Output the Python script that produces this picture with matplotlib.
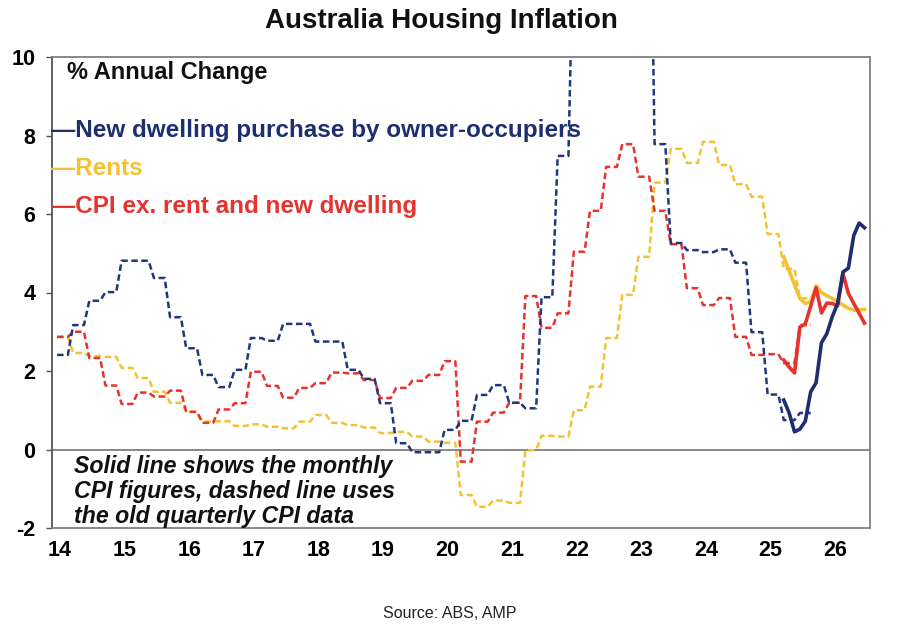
import numpy as np
import matplotlib
matplotlib.use("Agg")
import matplotlib.pyplot as plt

plt.rcParams['font.family'] = ['Liberation Sans', 'DejaVu Sans']

# ---------------- data ----------------
year_ticks = [14, 15, 16, 17, 18, 19, 20, 21, 22, 23, 24, 25, 26]
y_ticks = [-2, 0, 2, 4, 6, 8, 10]

# Quarterly CPI (annual % change), Dec-2013 quarter onwards
new_dwelling_q = [2.41, 3.17, 3.79, 4.01, 4.81, 4.81, 4.37, 3.37, 2.58, 1.90,
                  1.59, 2.03, 2.84, 2.77, 3.20, 3.20, 2.75, 2.75, 2.03, 1.80,
                  1.18, 0.16, -0.07, -0.07, 0.50, 0.73, 1.39, 1.64, 1.19, 1.05,
                  3.88, 7.48, 13.7, 16.6, 20.3, 20.7, 16.7, 7.78, 5.26, 5.08,
                  5.03, 5.10, 4.76, 2.99, 1.40, 0.75, 0.93]
rents_q = [2.87, 2.46, 2.38, 2.36, 2.08, 1.82, 1.47, 1.19, 0.96, 0.71,
           0.72, 0.60, 0.64, 0.58, 0.54, 0.71, 0.88, 0.68, 0.62, 0.56,
           0.42, 0.45, 0.33, 0.20, 0.17, -1.16, -1.46, -1.30, -1.36, -0.02,
           0.35, 0.33, 1.00, 1.60, 2.84, 3.94, 4.91, 6.80, 7.66, 7.30,
           7.84, 7.25, 6.76, 6.44, 5.49, 4.60, 3.85]
cpi_ex_q = [2.87, 3.00, 2.33, 1.63, 1.16, 1.45, 1.35, 1.50, 0.96, 0.68,
            1.02, 1.18, 1.98, 1.62, 1.32, 1.57, 1.69, 1.96, 1.94, 1.77,
            1.31, 1.57, 1.75, 1.90, 2.25, -0.31, 0.71, 0.94, 1.19, 3.91,
            3.10, 3.47, 5.04, 6.08, 7.20, 7.78, 6.95, 6.08, 5.23, 4.11,
            3.68, 3.86, 2.87, 2.41, 2.43, 2.20, 3.17]

# Monthly CPI (annual % change), from the Mar-2025 quarter month onwards
new_dwelling_m = [1.26, 0.93, 0.45, 0.52, 0.72, 1.47, 1.70, 2.72, 2.95, 3.38,
                  3.72, 4.52, 4.62, 5.45, 5.77, 5.65]
rents_m = [4.91, 4.55, 4.20, 3.85, 3.72, 3.76, 4.17, 4.00, 3.92, 3.85,
           3.77, 3.68, 3.60, 3.55, 3.56, 3.57]
cpi_ex_m = [2.28, 2.10, 1.95, 3.12, 3.20, 3.65, 4.12, 3.48, 3.73, 3.72,
            3.66, 4.48, 3.98, 3.72, 3.47, 3.22]

# ---------------- layout ----------------
W, H = 900, 633
START = 13.954          # axis position of first monthly slot
MONTHLY_OFFSET = 135    # month index where the monthly series begins

NAVY = '#1d2f6f'
NAVY_D = '#22377a'
YELLOW = '#f3c233'
RED = '#e5332e'
GRAY = '#7f7f7f'

fig = plt.figure(figsize=(W / 100, H / 100), dpi=100)
ax = fig.add_axes([52 / W, 1 - 528 / H, (870 - 52) / W, (528 - 57) / H])


def quarterly_to_monthly(vals):
    v = np.repeat(np.asarray(vals, dtype=float), 3)
    x = START + np.arange(len(v)) / 12.0
    return x, v


dash_kw = dict(lw=1.8, dashes=(2.6, 1.4), solid_capstyle='butt')
for q, c in [(rents_q, YELLOW), (cpi_ex_q, RED), (new_dwelling_q, NAVY_D)]:
    x, v = quarterly_to_monthly(q)
    ax.plot(x, v, color=c, **dash_kw, zorder=3)

for m, c in [(rents_m, YELLOW), (cpi_ex_m, RED), (new_dwelling_m, NAVY)]:
    xm = START + (MONTHLY_OFFSET + np.arange(len(m))) / 12.0
    ax.plot(xm, m, color=c, lw=2.6, zorder=4, solid_joinstyle='round')

ax.axhline(0, color=GRAY, lw=1.3, zorder=2)

ax.set_xlim(13.876, 26.539)
ax.set_ylim(-2, 10)
ax.set_yticks(y_ticks)
ax.set_yticklabels([str(t) for t in y_ticks])
ax.set_xticks(year_ticks)
ax.set_xticklabels([str(t) for t in year_ticks])

for s in ['top', 'right', 'bottom']:
    ax.spines[s].set_color(GRAY)
    ax.spines[s].set_linewidth(1.3)
ax.spines['left'].set_color('#555555')
ax.spines['left'].set_linewidth(1.3)

ax.tick_params(axis='y', direction='out', length=4, width=1.0, color='#555555',
               pad=8, labelsize=15.5)
ax.tick_params(axis='x', length=0, pad=9, labelsize=15.5)
for lab in ax.get_xticklabels() + ax.get_yticklabels():
    lab.set_fontweight('bold')

# ---------------- text ----------------
fig.text(441 / W, 1 - 21 / H, 'Australia Housing Inflation', ha='center',
         va='center', fontsize=20, fontweight='bold', color='#111111')
fig.text(67 / W, 1 - 73 / H, '% Annual Change', ha='left', va='center',
         fontsize=17, fontweight='bold', color='#111111')

legend_items = [('—New dwelling purchase by owner-occupiers', NAVY, 130),
                ('—Rents', YELLOW, 168),
                ('—CPI ex. rent and new dwelling', RED, 207)]
for txt, c, ypx in legend_items:
    fig.text(51 / W, 1 - ypx / H, txt, ha='left', va='center', fontsize=17.5,
             fontweight='bold', color=c)

note_lines = ['Solid line shows the monthly',
              'CPI figures, dashed line uses',
              'the old quarterly CPI data']
for i, ln in enumerate(note_lines):
    fig.text(74 / W, 1 - (466 + 25.5 * i) / H, ln, ha='left', va='center',
             fontsize=16.7, fontweight='bold', fontstyle='italic', color='#111111')

fig.text(450 / W, 1 - 613 / H, 'Source: ABS, AMP', ha='center', va='center',
         fontsize=11.5, color='#222222')

fig.savefig('out.png', dpi=100)
